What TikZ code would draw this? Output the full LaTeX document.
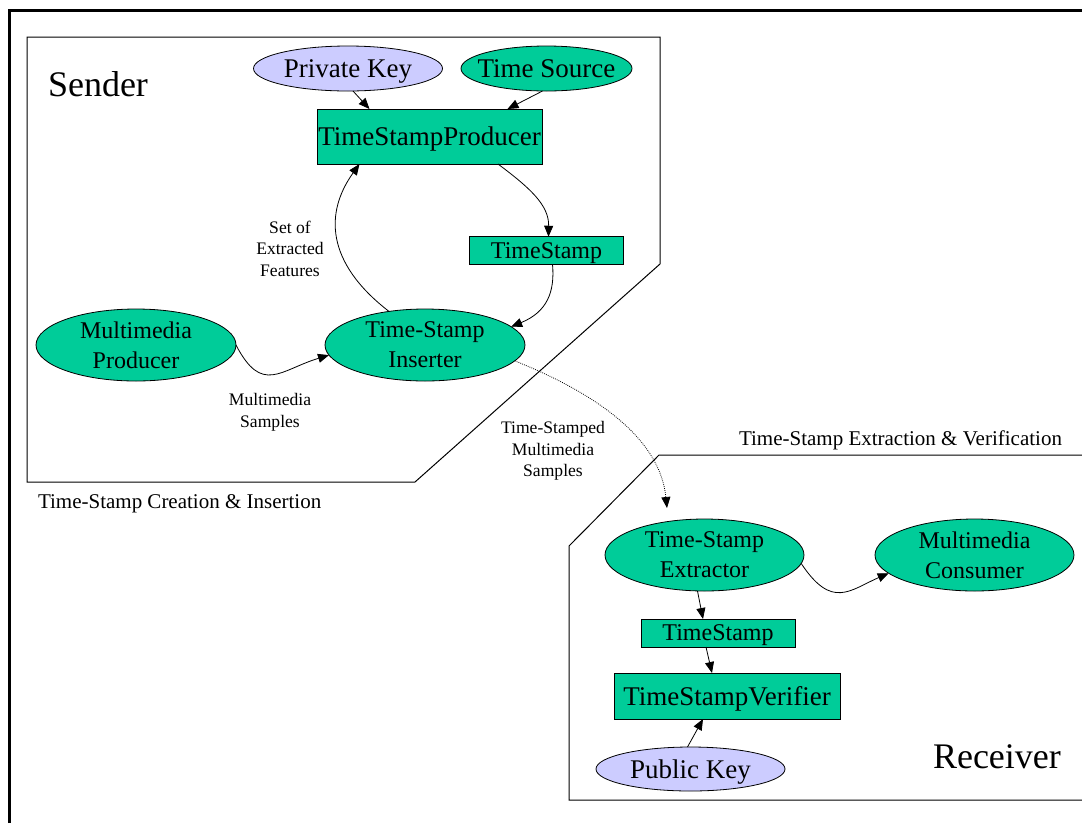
\documentclass[tikz,border=0pt]{standalone}
\usepackage{fontspec}
\setmainfont{Liberation Serif}
\usetikzlibrary{shapes.geometric,arrows.meta}
\definecolor{procgreen}{RGB}{0,204,153}
\definecolor{keyblue}{RGB}{204,204,255}

\begin{document}
\begin{tikzpicture}[x=1pt,y=-1pt,
  every node/.style={inner sep=0pt,outer sep=0pt},
  proc/.style={ellipse,draw=black,line width=0.8pt,fill=procgreen,
    minimum width=200pt,minimum height=72pt,align=center,
    font=\fontsize{24}{30}\selectfont},
  keynode/.style={ellipse,draw=black,line width=0.8pt,fill=keyblue,
    minimum width=189pt,minimum height=45pt,text depth=0pt,
    font=\fontsize{27}{32}\selectfont},
  box/.style={rectangle,draw=black,line width=0.8pt,fill=procgreen,
    text depth=0pt,font=\fontsize{27}{32}\selectfont},
  smallbox/.style={box,font=\fontsize{24}{30}\selectfont},
  lbl/.style={align=center,font=\fontsize{17.6}{21.5}\selectfont},
  caption/.style={anchor=base west,font=\fontsize{21}{25}\selectfont},
  title/.style={anchor=base west,font=\fontsize{36}{40}\selectfont},
  cluster/.style={draw=black,line width=1pt},
  arr/.style={draw=black,line width=0.8pt,-{Triangle[length=11pt,width=9pt]}},
  dotline/.style={dash pattern=on 0.8pt off 1.2pt}
]
\useasboundingbox (0,0) rectangle (1082,823);

% outer frame
\draw[line width=3pt] (9.5,823) -- (9.5,10.5) -- (1082,10.5);

% clusters
\draw[cluster] (27,37) -- (660,37) -- (660,264) -- (415,482) -- (27,482) -- cycle;
\draw[cluster] (1082,455) -- (659,455) -- (569,546) -- (569,800) -- (1082,800);

\node[title] (sendt) at (48,96) {Sender};
\node[title] (recvt) at (933,768) {Receiver};
\node[caption] (cap1) at (38,508) {Time-Stamp Creation \& Insertion};
\node[caption] (cap2) at (739,445) {Time-Stamp Extraction \& Verification};

% sender nodes
\node[keynode] (pk) at (348,68.5) {Private Key};
\node[keynode,fill=procgreen,minimum width=171pt] (ts) at (546.5,68.5) {\makebox[0pt]{Time Source}};
\node[box,minimum width=225pt,minimum height=55pt] (tsp) at (429.5,136.5) {TimeStampProducer};
\node[smallbox,minimum width=154pt,minimum height=27.5pt] (st1) at (546.5,250.5) {TimeStamp};
\node[proc] (mp) at (136,345) {Multimedia\\Producer};
\node[proc] (ins) at (425,345) {Time-Stamp\\Inserter};

% receiver nodes
\node[proc,minimum width=199pt] (ext) at (704.5,555) {Time-Stamp\\Extractor};
\node[proc,minimum width=199pt] (cmc) at (974.5,555) {Multimedia\\Consumer};
\node[smallbox,minimum width=154pt,minimum height=28pt] (st2) at (718,633) {TimeStamp};
\node[box,minimum width=226pt,minimum height=46pt] (ver) at (727,696) {TimeStampVerifier};
\node[keynode,minimum height=44pt] (pubk) at (690.5,769) {Public Key};

% edge labels
\node[lbl] (feat) at (290,248.5) {Set of\\Extracted\\Features};
\node[lbl] (samp) at (270,412.4) {Multimedia\\Samples};
\node[lbl] (tss) at (553,451) {Time-Stamped\\Multimedia\\Samples};

\coordinate (rcvin) at (667,508);

% sender edges
\draw[arr] ([xshift=5pt]pk.south) -- ([xshift=-60pt]tsp.north);
\draw[arr] ([xshift=-4pt]ts.south) -- ([xshift=78pt]tsp.north);
\draw[arr] ([xshift=68.5pt]tsp.south) .. controls (530,188) and (549,205) .. ([xshift=2pt]st1.north);
\draw[arr] ([xshift=6pt]st1.south) .. controls (555,292) and (547,312) .. (ins.12);
\draw[arr] (ins.137) .. controls (325,262) and (325,212) .. ([xshift=-70pt]tsp.south);
\draw[arr] (mp.east) .. controls (262,395) and (280,370) .. (ins.186);

% transfer to receiver
\draw[arr,dotline] (ins.-10) .. controls (600,395) and (660,440) .. (rcvin);

% receiver edges
\draw[arr] (ext.-5) .. controls (832,610) and (850,590) .. (cmc.192);
\draw[arr] ([xshift=-7pt]ext.south) -- ([xshift=-15pt]st2.north);
\draw[arr] ([xshift=-12pt]st2.south) -- ([xshift=-15pt]ver.north);
\draw[arr] ([xshift=-3pt]pubk.north) -- ([xshift=-24pt]ver.south);
\end{tikzpicture}
\end{document}
